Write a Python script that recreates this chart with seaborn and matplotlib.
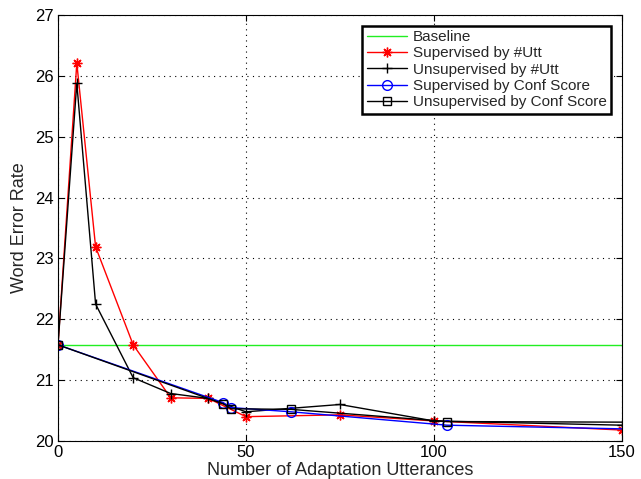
import pandas as pd
import matplotlib
matplotlib.use('Agg')
import matplotlib.pyplot as plt
import seaborn as sns

# values
baseline_x = [0, 150]
baseline_y = [21.58, 21.58]

utt_x = [0, 5, 10, 20, 30, 40, 50, 75, 100, 150]
sup_utt_y = [21.58, 26.21, 23.19, 21.58, 20.71, 20.70, 20.40, 20.43, 20.33, 20.18]
unsup_utt_y = [21.58, 25.88, 22.25, 21.04, 20.78, 20.70, 20.48, 20.60, 20.33, 20.26]

conf_x = [0, 44, 46, 62, 103.5, 150]
sup_conf_y = [21.58, 20.63, 20.55, 20.48, 20.26, 20.20]
unsup_conf_y = [21.58, 20.61, 20.53, 20.52, 20.32, 20.31]

sns.set_style('white')
plt.rcParams['font.family'] = ['Liberation Sans', 'DejaVu Sans']

fig = plt.figure(figsize=(6.41, 4.79), dpi=100)
ax = fig.add_axes([0.0905, 0.0793, 0.8795, 0.8894])

asterisk = (8, 2, 0)
series = [
    ('Baseline', baseline_x, baseline_y, '#22ee22', None),
    ('Supervised by #Utt', utt_x, sup_utt_y, 'red', asterisk),
    ('Unsupervised by #Utt', utt_x, unsup_utt_y, 'black', '+'),
    ('Supervised by Conf Score', conf_x, sup_conf_y, 'blue', 'o'),
    ('Unsupervised by Conf Score', conf_x, unsup_conf_y, 'black', 's'),
]

for name, xs, ys, col, mk in series:
    df = pd.DataFrame({'x': xs, 'y': ys})
    kw = {}
    if mk is not None:
        kw = dict(marker=mk, markersize=7 if mk != 's' else 6,
                  markeredgecolor=col, markeredgewidth=1.0)
        if mk in ('o', 's'):
            kw['markerfacecolor'] = 'none'
            # the confidence-score curves have no marker at the last point
            kw['markevery'] = list(range(len(xs) - 1))
        else:
            kw['markerfacecolor'] = col
    sns.lineplot(data=df, x='x', y='y', ax=ax, color=col, linewidth=1.0,
                 sort=False, estimator=None, label=name, **kw)

ax.set_xlim(0, 150)
ax.set_ylim(20, 27)
ax.set_xticks([0, 50, 100, 150])
ax.set_yticks(range(20, 28))
ax.grid(True, color='black', linestyle=(0, (1, 4)), linewidth=0.8)
ax.tick_params(direction='in', length=4, labelsize=12, colors='black',
               top=True, right=True, bottom=True, left=True, pad=3)
for s in ax.spines.values():
    s.set_color('black')
    s.set_linewidth(0.8)

ax.set_xlabel('Number of Adaptation Utterances', fontsize=13, labelpad=1)
ax.set_ylabel('Word Error Rate', fontsize=13, labelpad=5)

leg = ax.legend(loc='upper right', fontsize=11, handlelength=2.6,
                frameon=True, fancybox=False, borderpad=0.3,
                labelspacing=0.15, handletextpad=0.4,
                bbox_to_anchor=(0.995, 0.993))
leg.get_frame().set_edgecolor('black')
leg.get_frame().set_linewidth(1.8)
leg.get_frame().set_alpha(1)

fig.savefig('out.png', dpi=100)
